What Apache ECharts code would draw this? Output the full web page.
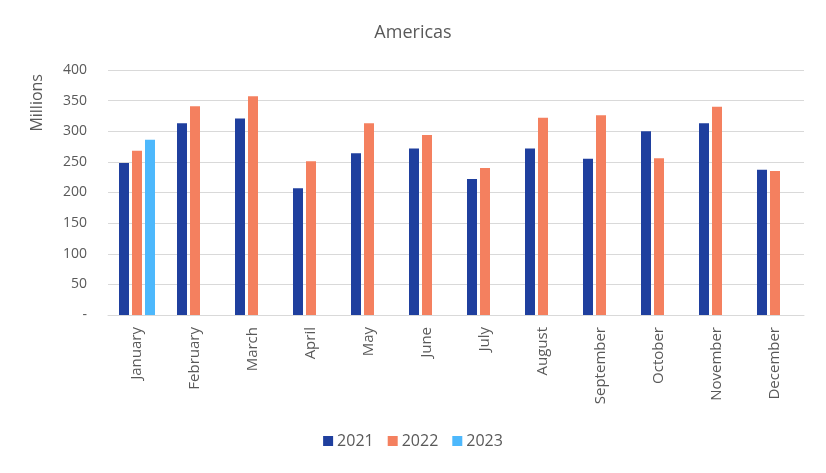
<!DOCTYPE html>
<html>
<head>
<meta charset="utf-8">
<script src="https://cdn.jsdelivr.net/npm/echarts@6/dist/echarts.min.js"></script>
<style>html,body{margin:0;padding:0;background:#fff;}#c{width:826px;height:473px;}</style>
</head>
<body>
<div id="c"></div>
<script>
var categories = ['January','February','March','April','May','June','July','August','September','October','November','December'];
var s2021 = [248, 313, 321, 207, 264, 272, 222, 272, 255, 300, 313, 237];
var s2022 = [268, 341, 357, 251, 313, 294, 240, 322, 326, 256, 340, 235];
var s2023 = [286, null, null, null, null, null, null, null, null, null, null, null];
var yTicks = [0, 50, 100, 150, 200, 250, 300, 350, 400];

var FONT = '"Open Sans", "Noto Sans", sans-serif';
var GRAY = '#595959';
var chart = echarts.init(document.getElementById('c'));
chart.setOption({
  animation: false,
  textStyle: {fontFamily: FONT},
  title: {text: 'Americas', left: 'center', top: 19,
    textStyle: {fontFamily: FONT, fontSize: 18, fontWeight: 'normal', color: GRAY}},
  graphic: [{type: 'text', left: 29, top: 74, rotation: Math.PI/2,
    style: {text: 'Millions', fontFamily: FONT, fontSize: 16, fill: GRAY}}],
  legend: {bottom: 19, left: 'center', itemWidth: 10, itemHeight: 10, itemGap: 14,
    icon: 'rect', textStyle: {fontFamily: FONT, fontSize: 16, color: GRAY, padding: [0,0,0,-1]},
    data: ['2021','2022','2023']},
  grid: {left: 108, right: 22, top: 70, bottom: 158, containLabel: false},
  xAxis: {type: 'category', data: categories,
    axisLine: {lineStyle: {color: '#d9d9d9', width: 1}},
    axisTick: {show: false},
    axisLabel: {rotate: 90, margin: 12, fontFamily: FONT, fontSize: 15, color: GRAY, interval: 0}},
  yAxis: {type: 'value', min: yTicks[0], max: yTicks[yTicks.length-1], interval: 50,
    axisLine: {show: false}, axisTick: {show: false},
    splitLine: {lineStyle: {color: '#d9d9d9', width: 1}},
    axisLabel: {margin: 21, fontFamily: FONT, fontSize: 14, color: GRAY,
      formatter: function(v){ return v === 0 ? '-' : String(v); }}},
  series: [
    {name: '2021', type: 'bar', data: s2021, barWidth: 10, barGap: '30%', itemStyle: {color: '#1f3f9e'}},
    {name: '2022', type: 'bar', data: s2022, barWidth: 10, barGap: '30%', itemStyle: {color: '#f4805f'}},
    {name: '2023', type: 'bar', data: s2023, barWidth: 10, barGap: '30%', itemStyle: {color: '#4db8fc'}}
  ]
});
</script>
</body>
</html>
